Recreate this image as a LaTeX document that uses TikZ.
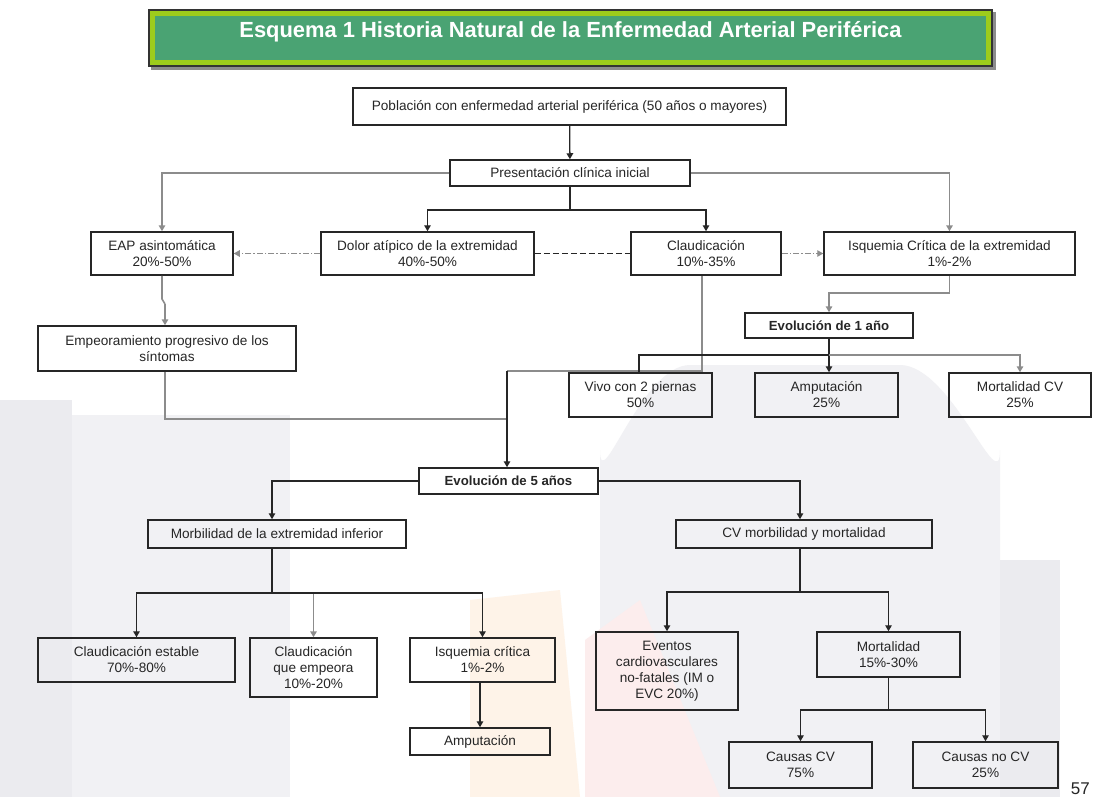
\documentclass[tikz,border=0pt]{standalone}
\usepackage{fontspec}
\setmainfont{Liberation Sans}
\usetikzlibrary{arrows.meta}
\definecolor{tgreen}{HTML}{4AA373}
\definecolor{tlime}{HTML}{9DCC1C}
\definecolor{lgray}{HTML}{8C8C8C}
\definecolor{ink}{HTML}{262626}
\definecolor{wm1}{HTML}{F1F1F4}
\definecolor{wm2}{HTML}{EBEBEF}
\definecolor{wmpink}{HTML}{FCEDED}
\definecolor{wmpeach}{HTML}{FEF3E8}
\begin{document}
\begin{tikzpicture}[x=1pt,y=-1pt,
  box/.style={draw=ink, line width=1.5pt, align=center, inner sep=0pt,
    font=\fontsize{13.6}{16}\selectfont, text=ink},
  ln/.style={draw=ink, line width=1.3pt},
  lg/.style={draw=lgray, line width=1.6pt},
  arr/.style={-{Triangle[length=6pt,width=6.5pt]}},
  dd/.style={draw=lgray, line width=1.2pt, dash pattern=on 6pt off 2pt on 1.5pt off 2pt},
  dsh/.style={draw=ink, line width=1.4pt, dash pattern=on 6pt off 3pt}
]
\useasboundingbox (0,0) rectangle (1094,797);
\fill[white] (0,0) rectangle (1094,797);
% faint watermark
\fill[wm2] (0,400) rectangle (72,797);
\fill[wm1] (72,415) rectangle (290,797);
\fill[wm1] (600,797) -- (600,450) to[out=-90,in=180] (690,365) -- (900,365) to[out=0,in=-90] (1000,450) -- (1000,797) -- cycle;
\fill[wm2] (1000,560) rectangle (1060,797);
\fill[wmpink] (585,797) -- (585,640) -- (640,600) -- (720,797) -- cycle;
\fill[wmpeach] (470,797) -- (470,600) -- (560,590) -- (580,797) -- cycle;

% title
\fill[black!45] (151,12) rectangle (996,70);
\fill[black!80] (148,9) rectangle (993,67);
\fill[tlime] (150,11) rectangle (991,65);
\fill[tgreen] (155,16) rectangle (986,60);
\node[text=white, font=\bfseries\fontsize{21.9}{24}\selectfont] (title) at (570.5,32) {Esquema 1 Historia Natural de la Enfermedad Arterial Periférica};

% nodes
\node[box, minimum width=433pt, minimum height=37pt] (pob) at (569.5,106.5) {Población con enfermedad arterial periférica (50 años o mayores)};
\node[box, minimum width=240pt, minimum height=26pt] (pres) at (570,173) {Presentación clínica inicial};
\node[box, minimum width=142pt, minimum height=43pt] (eap) at (162,253.5) {EAP asintomática\\20\%-50\%};
\node[box, minimum width=213pt, minimum height=43pt] (dolor) at (427.5,253.5) {Dolor atípico de la extremidad\\40\%-50\%};
\node[box, minimum width=150pt, minimum height=43pt] (claud) at (706,253.5) {Claudicación\\10\%-35\%};
\node[box, minimum width=251pt, minimum height=43pt] (icrit) at (949.5,253.5) {Isquemia Crítica de la extremidad\\1\%-2\%};
\node[box, minimum width=258pt, minimum height=45pt] (emp) at (167,348.5) {Empeoramiento progresivo de los\\síntomas};
\node[box, minimum width=168pt, minimum height=25pt, font=\bfseries\fontsize{13.2}{16}\selectfont] (evo1) at (829,325.5) {Evolución de 1 año};
\node[box, minimum width=143pt, minimum height=44pt] (vivo) at (640.5,395) {Vivo con 2 piernas\\50\%};
\node[box, minimum width=143pt, minimum height=44pt] (amp1) at (826.5,395) {Amputación\\25\%};
\node[box, minimum width=142pt, minimum height=44pt] (mcv) at (1020,395) {Mortalidad CV\\25\%};
\node[box, minimum width=179pt, minimum height=26pt, font=\bfseries\fontsize{13.2}{16}\selectfont] (evo5) at (508.5,481) {Evolución de 5 años};
\node[box, minimum width=258pt, minimum height=28pt] (morb) at (277,534) {Morbilidad de la extremidad inferior};
\node[box, minimum width=256pt, minimum height=28pt] (cvmm) at (804,534) {CV morbilidad y mortalidad};
\node[box, minimum width=197pt, minimum height=44pt] (cest) at (136.5,660) {Claudicación estable\\70\%-80\%};
\node[box, minimum width=127pt, minimum height=59pt] (cemp) at (313.5,667.5) {Claudicación\\que empeora\\10\%-20\%};
\node[box, minimum width=145pt, minimum height=44pt] (isq) at (482.5,660) {Isquemia crítica\\1\%-2\%};
\node[box, minimum width=140pt, minimum height=27pt] (amp2) at (480,741.5) {Amputación};
\node[box, minimum width=142pt, minimum height=78pt] (evt) at (667,671) {Eventos\\cardiovasculares\\no-fatales (IM o\\EVC 20\%)};
\node[box, minimum width=143pt, minimum height=45pt] (mort) at (888.5,654.5) {Mortalidad\\15\%-30\%};
\node[box, minimum width=143pt, minimum height=46pt] (ccv) at (800.5,765) {Causas CV\\75\%};
\node[box, minimum width=145pt, minimum height=46pt] (cncv) at (985.5,765) {Causas no CV\\25\%};
\node[text=ink, font=\fontsize{17}{20}\selectfont, anchor=south east, inner sep=0pt] (pg) at (1090,795) {57};

% coordinates
\coordinate (c1) at (570,210);
\coordinate (j1) at (162,299);
\coordinate (j2) at (165,304);
\coordinate (m5) at (507,371);
\coordinate (e5) at (507,419);
\coordinate (i1) at (949.5,293);
\coordinate (h1) at (829,355);
\coordinate (mb) at (272,593);
\coordinate (cb) at (800,592);
\coordinate (mo) at (888.5,710);

% connectors
\draw[ln, arr] (pob) -- (pres);
\draw[lg, arr] (pres.west) -| (eap.north);
\draw[lg, arr] (pres.east) -| (icrit.north);
\draw[ln] (pres.south) -- (c1);
\draw[ln, arr] (c1) -| (dolor.north);
\draw[ln, arr] (c1) -| (claud.north);
\draw[dd, arr] (dolor.west) -- (eap.east);
\draw[dsh] (dolor.east) -- (claud.west);
\draw[dd, arr] (claud.east) -- (icrit.west);
\draw[lg] (eap.south) -- (j1) -- (j2);
\draw[lg, arr] (j2) -- (j2 |- emp.north);
\draw[lg] (emp.south -| j2) |- (e5);
\draw[lg] ([xshift=-4pt]claud.south) |- (m5);
\draw[ln, arr] (m5) -- (evo5.north -| m5);
\draw[lg] (icrit.south) -- (i1);
\draw[lg, arr] (i1) -| (evo1.north);
\draw[ln] (evo1.south) -- (h1);
\draw[ln] (h1) -| ([xshift=-1.5pt]vivo.north);
\draw[ln, arr] (h1) -- (amp1.north -| h1);
\draw[lg, arr] (h1) -| (mcv.north);
\draw[ln, arr] (evo5.west) -| (morb.north -| mb);
\draw[ln, arr] (evo5.east) -| (cvmm.north -| cb);
\draw[ln] (morb.south -| mb) -- (mb);
\draw[ln, arr] (mb) -| (cest.north);
\draw[lg, arr] (mb) -| (cemp.north);
\draw[ln, arr] (mb) -| (isq.north);
\draw[ln, arr] (isq.south -| amp2.north) -- (amp2.north);
\draw[ln] (cvmm.south -| cb) -- (cb);
\draw[ln, arr] (cb) -| (evt.north);
\draw[ln, arr] (cb) -| (mort.north);
\draw[ln] (mort.south) -- (mo);
\draw[ln, arr] (mo) -| (ccv.north);
\draw[ln, arr] (mo) -| (cncv.north);
\end{tikzpicture}
\end{document}
